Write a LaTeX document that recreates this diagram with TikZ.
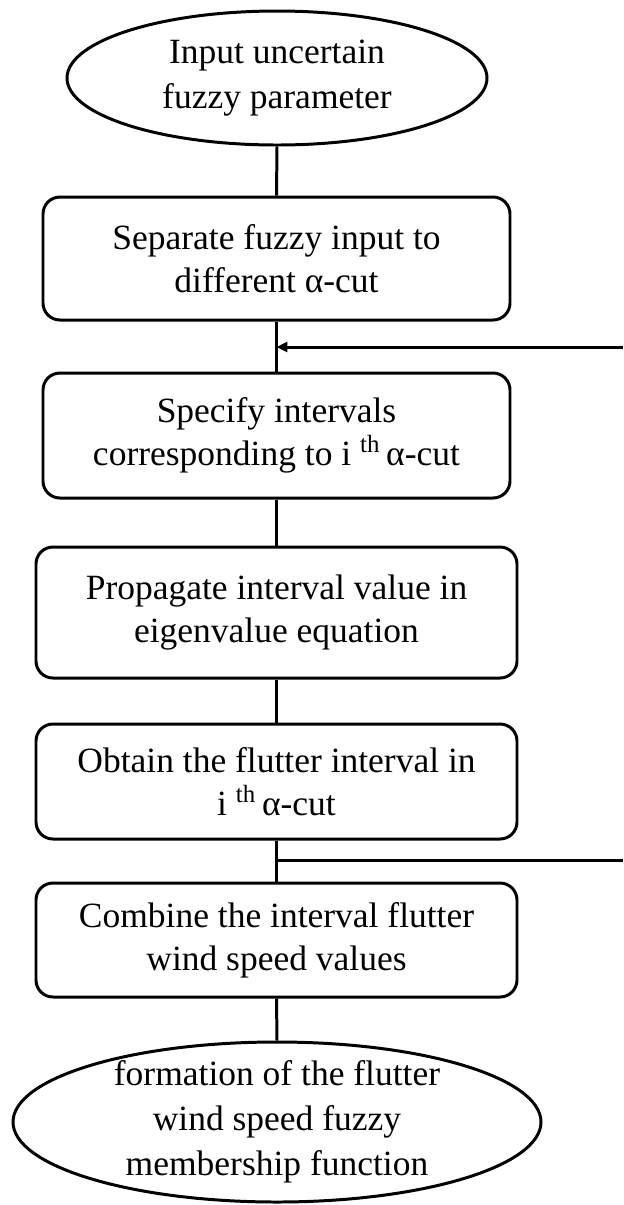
\documentclass[tikz,border=0pt]{standalone}
\usepackage{fontspec}
\setmainfont{Liberation Serif}
\usetikzlibrary{shapes.geometric,arrows.meta}
\begin{document}
\begin{tikzpicture}[x=0.02cm,y=-0.02cm,
  every node/.style={font=\fontsize{20.2pt}{24.4pt}\selectfont, align=center},
  stepbox/.style={draw, line width=1.7pt, rounded corners=0.34cm, inner sep=0pt},
  oval/.style={draw, ellipse, line width=1.7pt, inner sep=0pt},
  ovaltext/.style={font=\fontsize{20.2pt}{25.5pt}\selectfont},
  conn/.style={line width=1.7pt},
  arr/.style={line width=1.7pt, -{Triangle[length=0.22cm,width=0.2cm]}}]
\useasboundingbox (0,0) rectangle (623,1205);
\node[oval, minimum width=420*0.02cm, minimum height=134*0.02cm] (top) at (277,78) {};
\node[ovaltext] at (top.center) (toptext) {Input uncertain\\fuzzy parameter};
\node[stepbox, minimum width=467*0.02cm, minimum height=123*0.02cm] (b1) at (276.5,258.5) {Separate fuzzy input to\\different α-cut};
\node[stepbox, minimum width=467*0.02cm, minimum height=125*0.02cm] (b2) at (276.5,435.5) {Specify intervals\\corresponding to i \textsuperscript{th}\,α-cut};
\node[stepbox, minimum width=481*0.02cm, minimum height=131*0.02cm] (b3) at (276.5,612.5) {Propagate interval value in\\eigenvalue equation};
\node[stepbox, minimum width=481*0.02cm, minimum height=115*0.02cm] (b4) at (276.5,781.5) {Obtain the flutter interval in\\i \textsuperscript{th}\,α-cut};
\node[stepbox, minimum width=481*0.02cm, minimum height=114*0.02cm] (b5) at (276.5,940) {Combine the interval flutter\\wind speed values};
\node[oval, minimum width=528*0.02cm, minimum height=160*0.02cm] (bot) at (277,1122) {};
\node[ovaltext] at (bot.center) (bottext) {formation of the flutter\\wind speed fuzzy\\membership function};
\coordinate (r1) at (623,347);
\coordinate (r2) at (623,860);
\draw[conn] (top.south) -- (b1.north);
\draw[conn] (b1.south) -- (b2.north);
\draw[conn] (b2.south) -- (b3.north);
\draw[conn] (b3.south) -- (b4.north);
\draw[conn] (b4.south) -- (b5.north);
\draw[conn] (b5.south) -- (bot.north);
\draw[arr] (r1) -- (b1.south |- r1);
\draw[conn] (b4.south |- r2) -- (r2);
\end{tikzpicture}
\end{document}
